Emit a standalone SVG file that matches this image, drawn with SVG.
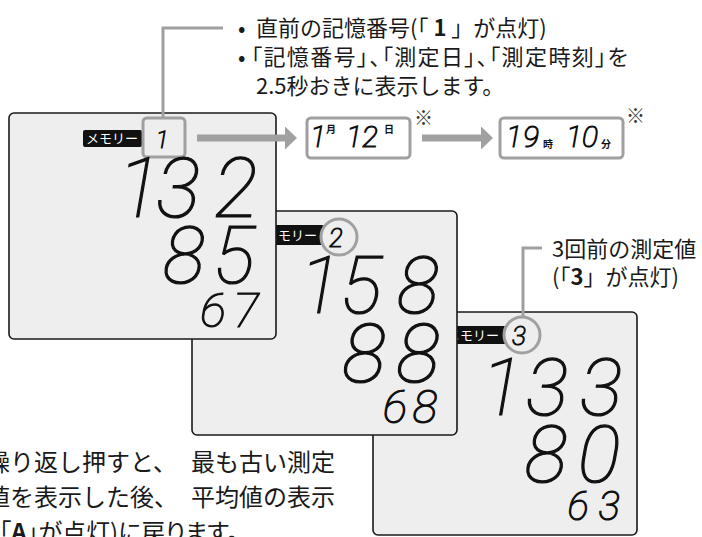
<svg xmlns="http://www.w3.org/2000/svg" width="702" height="537" viewBox="0 0 702 537">
<style>
.jp{font-family:"Noto Sans CJK JP","Noto Sans",sans-serif;fill:#1a1a1a}
.seg{font-family:Roboto,"DejaVu Sans",sans-serif;font-style:italic;font-weight:100;fill:#111;stroke:#111;stroke-width:1.2;text-anchor:middle}
.panel{fill:#eeeeee;stroke:#1a1a1a;stroke-width:1.6}
.lbl{fill:#111}
.lbltxt{font-family:"Noto Sans CJK JP",sans-serif;font-size:13px;fill:#fff}
.hl{fill:#eeeeee;stroke:#a0a0a0;stroke-width:3}
.sbox{fill:#ffffff;stroke:#a0a0a0;stroke-width:3}
.call{fill:none;stroke:#a0a0a0;stroke-width:3}
.arr{fill:none;stroke:#a0a0a0;stroke-width:7}
.unit{font-family:"Noto Sans CJK JP",sans-serif;font-weight:bold;font-size:10px;fill:#111}
.mark{font-family:"Noto Sans CJK JP",sans-serif;font-size:19px;fill:#333}
.bold{font-weight:bold}
</style>
<defs>
<marker id="ah" markerWidth="13" markerHeight="23" refX="0" refY="11.5" orient="auto" markerUnits="userSpaceOnUse">
<path d="M0,0 L12,11.5 L0,23 Z" fill="#a0a0a0"/>
</marker>
</defs>

<!-- Panel 3 -->
<g id="panel3">
<rect class="panel" x="373" y="312" width="264" height="223" rx="5"/>
<rect class="lbl" x="444" y="326" width="62" height="18" rx="2"/>
<text class="lbltxt" x="447" y="340">メモリー</text>
<circle class="hl" cx="522" cy="335" r="18"/>
<text class="seg" x="519" y="345" font-size="26">3</text>
<text class="seg" font-size="80" y="415"><tspan x="502">1</tspan><tspan x="547">3</tspan><tspan x="601">3</tspan></text>
<text class="seg" font-size="80" y="482"><tspan x="546">8</tspan><tspan x="599">0</tspan></text>
<text class="seg" font-size="40" y="520"><tspan x="578">6</tspan><tspan x="609">3</tspan></text>
</g>

<!-- Panel 2 -->
<g id="panel2">
<rect class="panel" x="192" y="211" width="265" height="224" rx="5"/>
<rect class="lbl" x="262" y="225" width="62" height="20" rx="2"/>
<text class="lbltxt" x="265" y="240">メモリー</text>
<circle class="hl" cx="339" cy="237" r="18"/>
<text class="seg" x="336" y="247" font-size="26">2</text>
<text class="seg" font-size="79" y="313"><tspan x="320">1</tspan><tspan x="361">5</tspan><tspan x="418">8</tspan></text>
<text class="seg" font-size="82" y="382"><tspan x="364">8</tspan><tspan x="418">8</tspan></text>
<text class="seg" font-size="46" y="423"><tspan x="395">6</tspan><tspan x="425">8</tspan></text>
</g>

<!-- Panel 1 -->
<g id="panel1">
<rect class="panel" x="9" y="113" width="267" height="226" rx="5"/>
<rect class="lbl" x="83" y="130" width="59" height="17" rx="2"/>
<text class="lbltxt" x="86" y="143">メモリー</text>
<rect class="hl" x="143" y="118" width="42" height="39" rx="4"/>
<text class="seg" x="162" y="148" font-size="24">1</text>
<text class="seg" font-size="83" y="217"><tspan x="139">1</tspan><tspan x="178">3</tspan><tspan x="236">2</tspan></text>
<text class="seg" font-size="79" y="283"><tspan x="184">8</tspan><tspan x="234">5</tspan></text>
<text class="seg" font-size="49" y="327"><tspan x="213">6</tspan><tspan x="246">7</tspan></text>
</g>

<!-- Date box -->
<g id="date">
<rect class="sbox" x="307" y="118" width="103" height="40" rx="4"/>
<text class="seg" font-size="30" y="147"><tspan x="318">1</tspan><tspan x="354">1</tspan><tspan x="370">2</tspan></text>
<text class="unit" x="326" y="133">月</text>
<text class="unit" x="384" y="133">日</text>
<text class="mark" x="414" y="125">※</text>
</g>

<!-- Time box -->
<g id="time">
<rect class="sbox" x="500" y="118" width="123" height="40" rx="4"/>
<text class="seg" font-size="30" y="147"><tspan x="514">1</tspan><tspan x="531">9</tspan><tspan x="574">1</tspan><tspan x="590">0</tspan></text>
<text class="unit" x="543" y="148">時</text>
<text class="unit" x="601" y="148">分</text>
<text class="mark" x="626" y="123">※</text>
</g>

<!-- Connectors -->
<g id="connectors">
<line class="arr" x1="197" y1="138" x2="285" y2="138" marker-end="url(#ah)"/>
<line class="arr" x1="422" y1="138" x2="481" y2="138" marker-end="url(#ah)"/>
<polyline class="call" points="223,28 163,28 163,118"/>
<polyline class="call" points="542,248 523,248 523,317"/>
</g>

<!-- Callout text 1 -->
<g id="note1">
<text class="jp" x="238" y="36" font-size="22">•</text>
<text class="jp" x="256" y="36" font-size="22">直前の記憶番号(「 <tspan class="bold">1</tspan> 」が点灯)</text>
<text class="jp" x="238" y="65" font-size="22">•</text>
<text class="jp" x="251" y="65" font-size="22" letter-spacing="1.4" style="font-feature-settings:'palt'">「記憶番号」、「測定日」、「測定時刻」を</text>
<text class="jp" x="256" y="94" font-size="22">2.5秒おきに表示します。</text>
</g>

<!-- Callout text 2 -->
<g id="note2">
<text class="jp" x="552" y="257" font-size="22">3回前の測定値</text>
<text class="jp" x="552" y="285" font-size="22">(「<tspan class="bold">3</tspan>」が点灯)</text>
</g>

<!-- Bottom text -->
<g id="note3">
<text class="jp" y="471" font-size="24"><tspan x="-14">繰り返し押すと、</tspan><tspan x="191">最も古い測定</tspan></text>
<text class="jp" y="506" font-size="24"><tspan x="-14">値を表示した後、</tspan><tspan x="191">平均値の表示</tspan></text>
<text class="jp" x="-9" y="541" font-size="24" style="font-feature-settings:'palt'">(「<tspan class="bold">A</tspan>」が点灯)に戻ります。</text>
</g>
</svg>
